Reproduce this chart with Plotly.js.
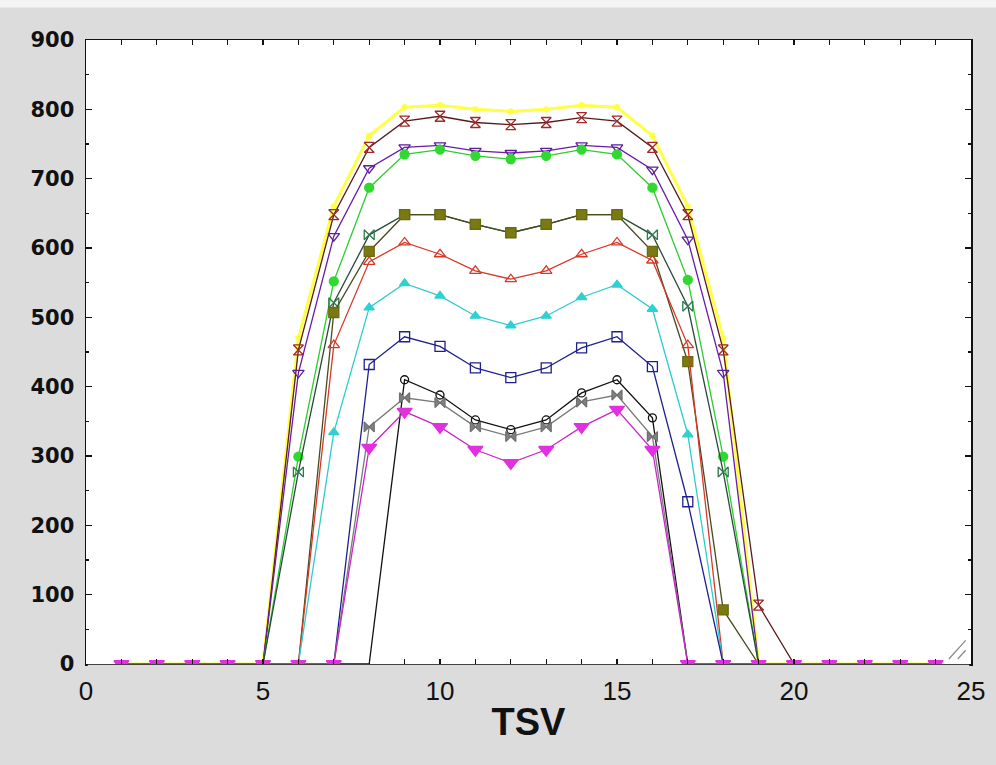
<!DOCTYPE html>
<html>
<head>
<meta charset="utf-8">
<script src="https://cdn.plot.ly/plotly-3.0.1.min.js"></script>
<style>html,body{margin:0;padding:0;background:#dcdcdc;}#chart{width:996px;height:765px;}</style>
</head>
<body>
<div id="chart"></div>
<script>
// TSV values (x)
const tsv = [1,2,3,4,5,6,7,8,9,10,11,12,13,14,15,16,17,18,19,20,21,22,23,24];

// Series values
const yellowSeries    = [0,0,0,0,0,470,660,762,803,806,800,797,800,806,803,762,660,470,0,0,0,0,0,0];
const hourglassSeries = [0,0,0,0,0,453,648,745,783,790,781,778,781,788,783,745,648,453,85,0,0,0,0,0];
const purpleSeries    = [0,0,0,0,0,420,617,715,745,748,740,737,740,748,745,713,612,420,0,0,0,0,0,0];
const greenSeries     = [0,0,0,0,0,299,552,687,735,742,733,728,733,742,735,687,554,299,0,0,0,0,0,0];
const bowtieSeries    = [0,0,0,0,0,277,521,619,648,648,634,622,634,648,648,619,516,277,0,0,0,0,0,0];
const oliveSeries     = [0,0,0,0,0,0,507,595,648,648,634,622,634,648,648,595,436,78,0,0,0,0,0,0];
const redSeries       = [0,0,0,0,0,0,460,580,608,591,567,555,567,591,608,582,460,0,0,0,0,0,0,0];
const cyanSeries      = [0,0,0,0,0,0,334,514,549,531,502,488,502,529,547,512,331,0,0,0,0,0,0,0];
const blueSeries      = [0,0,0,0,0,0,0,432,472,458,427,413,427,456,472,429,234,0,0,0,0,0,0,0];
const blackSeries     = [0,0,0,0,0,0,0,0,410,388,352,338,352,391,410,355,0,0,0,0,0,0,0,0];
const graySeries      = [0,0,0,0,0,0,0,342,384,377,342,328,342,378,388,328,0,0,0,0,0,0,0,0];
const magentaSeries   = [0,0,0,0,0,0,0,312,364,342,309,290,309,342,367,309,0,0,0,0,0,0,0,0];

const xTickVals = [0,5,10,15,20,25];
const yTickVals = [0,100,200,300,400,500,600,700,800,900];

// markers of the upper series are hidden on the zero line (only magenta shows there)
function tr(y, lineColor, width, symbol, mColor, mLine, size, showZeroMarkers) {
  const sizes = showZeroMarkers ? size : y.map(v => (v === 0 ? 0 : size));
  return {
    x: tsv, y: y, type: 'scatter', mode: 'lines+markers',
    line: {color: lineColor, width: width},
    marker: {symbol: symbol, color: mColor, size: sizes, opacity: 1, line: {color: mLine, width: 1.3}},
    cliponaxis: true, showlegend: false, hoverinfo: 'x+y'
  };
}

const data = [
  tr(yellowSeries,    '#ffff44', 3,   'circle',            '#ffff44', '#ffff44', 5,  false),
  tr(hourglassSeries, '#5a1a1a', 1.3, 'hourglass-open',    '#a02828', '#a02828', 10, false),
  tr(purpleSeries,    '#6a1aa8', 1.3, 'triangle-down-open','#5a2098', '#5a2098', 10, false),
  tr(greenSeries,     '#30cc30', 1.3, 'circle',            '#30d830', '#30d830', 9,  false),
  tr(bowtieSeries,    '#2a4a3a', 1.3, 'bowtie-open',       '#2e7a50', '#2e7a50', 10, false),
  tr(oliveSeries,     '#4a4a20', 1.3, 'square',            '#7a7a12', '#6a6a10', 10, false),
  tr(redSeries,       '#d83828', 1.3, 'triangle-up-open',  '#d83828', '#d83828', 10, false),
  tr(cyanSeries,      '#30cccc', 1.3, 'triangle-up',       '#30d0d0', '#30d0d0', 9,  false),
  tr(blueSeries,      '#20208c', 1.3, 'square-open',       '#20208c', '#20208c', 10, false),
  tr(blackSeries,     '#111111', 1.3, 'circle-open',       '#111111', '#111111', 8,  false),
  tr(graySeries,      '#7a7a7a', 1.3, 'bowtie',            '#808080', '#707070', 10, false),
  tr(magentaSeries,   '#c828c8', 1.3, 'triangle-down',     '#e030e0', '#e030e0', 13, true)
];

const layout = {
  width: 996, height: 765,
  paper_bgcolor: '#dcdcdc', plot_bgcolor: '#ffffff',
  margin: {l: 86, r: 25, t: 40, b: 101, pad: 0},
  font: {family: 'Liberation Sans, Arial, sans-serif', color: '#111'},
  showlegend: false,
  xaxis: {
    range: [0, 25], tickmode: 'array', tickvals: xTickVals,
    ticks: 'inside', ticklen: 5, tickwidth: 1.2, tickcolor: '#111',
    minor: {dtick: 1, ticks: 'inside', ticklen: 5, tickwidth: 1.2, tickcolor: '#111', showgrid: false},
    showline: true, linecolor: '#111', linewidth: 1.5, mirror: 'ticks',
    showgrid: false, zeroline: false,
    tickfont: {size: 26, color: '#111'},
    ticklabelstandoff: 3,
    title: {text: 'TSV', font: {size: 38, weight: 'bold', color: '#111'}, standoff: 3}
  },
  yaxis: {
    range: [0, 900], tickmode: 'array', tickvals: yTickVals,
    ticks: 'inside', ticklen: 6, tickwidth: 1.2, tickcolor: '#111',
    minor: {dtick: 50, ticks: 'inside', ticklen: 3, tickwidth: 1.2, tickcolor: '#111', showgrid: false},
    showline: true, linecolor: '#111', linewidth: 1.5, mirror: 'ticks',
    showgrid: false, zeroline: false,
    tickfont: {family: 'DejaVu Sans, sans-serif', size: 21, weight: 'bold', color: '#111'},
    ticklabelstandoff: 6
  },
  shapes: [
    {type: 'rect', xref: 'paper', yref: 'paper', x0: -0.2, x1: 1.1, y0: 1.052, y1: 1.1,
     fillcolor: '#f4f4f4', line: {width: 0}, layer: 'below'},
    // background band just under the bottom axis line (markers on the zero line are cut there)
    {type: 'rect', xref: 'paper', yref: 'paper', x0: 0.002, x1: 0.998, y0: -0.0013, y1: -0.017,
     fillcolor: '#dcdcdc', line: {width: 0}, layer: 'above'},
    {type: 'line', xref: 'paper', yref: 'paper', x0: 0.975, y0: 0.008, x1: 0.994, y1: 0.038,
     line: {color: '#888', width: 1.2}},
    {type: 'line', xref: 'paper', yref: 'paper', x0: 0.985, y0: 0.008, x1: 0.994, y1: 0.022,
     line: {color: '#888', width: 1.2}}
  ]
};

Plotly.newPlot('chart', data, layout, {staticPlot: true, displayModeBar: false});
</script>
</body>
</html>
